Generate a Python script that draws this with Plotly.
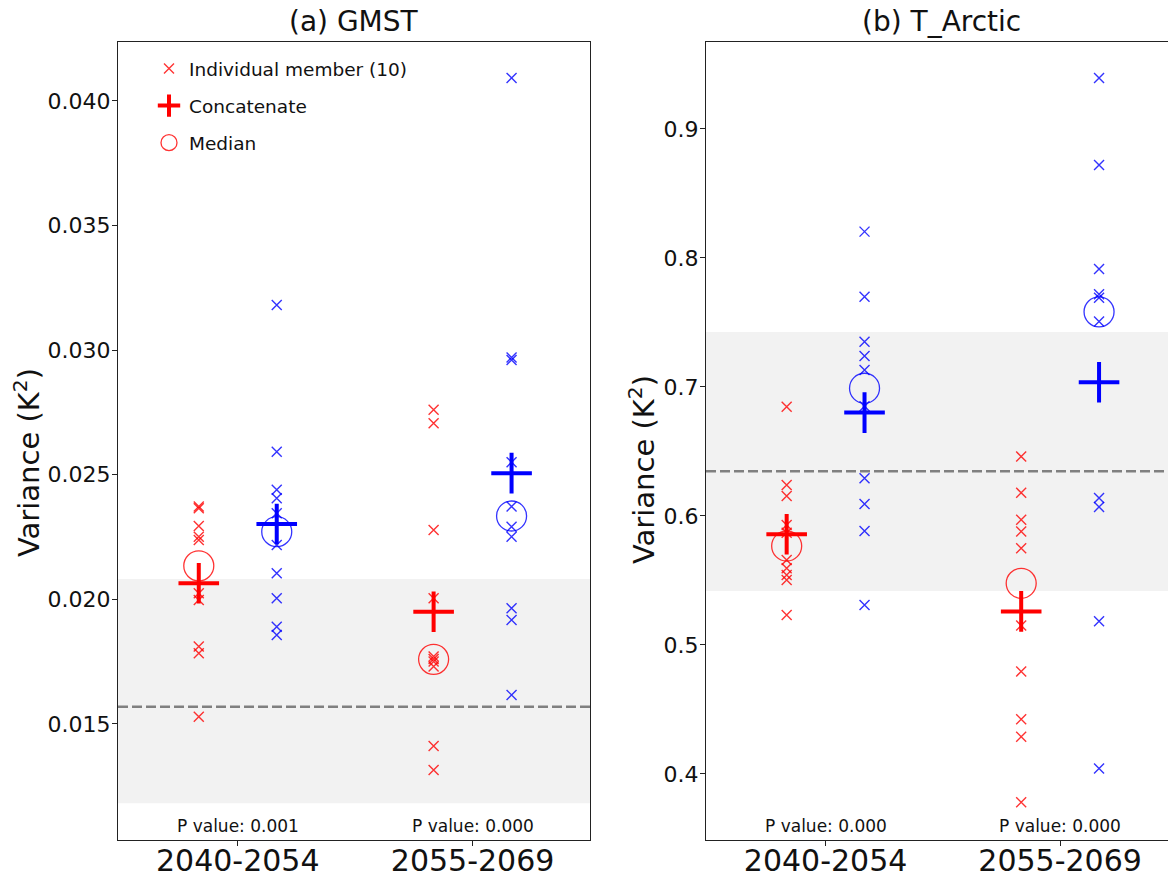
import plotly.graph_objects as go

# ---------------- data ----------------
periods = ["2040-2054", "2055-2069"]
panel_titles = ["(a) GMST", "(b) T_Arctic"]
p_values = [["P value: 0.001", "P value: 0.000"],
            ["P value: 0.000", "P value: 0.000"]]

# GMST variance, individual members (10 each)
gmst_red_members = [
    [0.02372, 0.02365, 0.02294, 0.02251, 0.02238, 0.02024, 0.01997, 0.01810, 0.01783, 0.01529],
    [0.02760, 0.02706, 0.02278, 0.02004, 0.01770, 0.01760, 0.01750, 0.01730, 0.01411, 0.01315],
]
gmst_blue_members = [
    [0.03181, 0.02592, 0.02439, 0.02405, 0.02345, 0.02218, 0.02104, 0.02004, 0.01890, 0.01857],
    [0.04092, 0.02970, 0.02960, 0.02550, 0.02372, 0.02291, 0.02251, 0.01964, 0.01917, 0.01616],
]
gmst_red_concat = [0.02064, 0.01950]
gmst_blue_concat = [0.02302, 0.02506]
gmst_red_median = [0.02134, 0.01759]
gmst_blue_median = [0.02271, 0.02334]
gmst_ref_mean = 0.01569
gmst_ref_band = [0.01181, 0.02081]

# T_Arctic variance, individual members (10 each)
arctic_red_members = [
    [0.6847, 0.6240, 0.6155, 0.5930, 0.5870, 0.5659, 0.5594, 0.5543, 0.5504, 0.5233],
    [0.6460, 0.6179, 0.5970, 0.5880, 0.5750, 0.5150, 0.4795, 0.4424, 0.4288, 0.3781],
]
arctic_blue_members = [
    [0.8204, 0.7700, 0.7351, 0.7240, 0.7132, 0.6850, 0.6292, 0.6093, 0.5884, 0.5310],
    [0.9395, 0.8721, 0.7914, 0.7719, 0.7692, 0.7508, 0.6140, 0.6070, 0.5184, 0.4043],
]
arctic_red_concat = [0.5858, 0.5260]
arctic_blue_concat = [0.6801, 0.7036]
arctic_red_median = [0.5767, 0.5478]
arctic_blue_median = [0.6990, 0.7582]
arctic_ref_mean = 0.6347
arctic_ref_band = [0.5419, 0.7426]

y_ranges = [[0.01034, 0.04236], [0.3488, 0.9674]]
y_ticks = [[0.015, 0.020, 0.025, 0.030, 0.035, 0.040],
           [0.4, 0.5, 0.6, 0.7, 0.8, 0.9]]
y_ticktext = [["0.015", "0.020", "0.025", "0.030", "0.035", "0.040"],
              ["0.4", "0.5", "0.6", "0.7", "0.8", "0.9"]]

# ---------------- style ----------------
RED = "rgba(255,0,0,0.8)"
BLUE = "rgba(0,0,255,0.8)"
RED_S = "rgb(255,0,0)"
BLUE_S = "rgb(0,0,255)"
OFFSET = 0.166
W, H = 1168, 878
FONT = "DejaVu Sans"
TXT = "#111111"

fig = go.Figure()

panels = [
    (gmst_red_members, gmst_blue_members, gmst_red_concat, gmst_blue_concat,
     gmst_red_median, gmst_blue_median, gmst_ref_mean, gmst_ref_band),
    (arctic_red_members, arctic_blue_members, arctic_red_concat, arctic_blue_concat,
     arctic_red_median, arctic_blue_median, arctic_ref_mean, arctic_ref_band),
]

shapes = []
annotations = []
for pi, (rm, bm, rc, bc, rmed, bmed, refm, band) in enumerate(panels):
    xa = "x" if pi == 0 else "x2"
    ya = "y" if pi == 0 else "y2"
    xdom = "x domain" if pi == 0 else "x2 domain"
    # reference band and mean line
    shapes.append(dict(type="rect", xref=xdom, yref=ya, x0=0, x1=1, y0=band[0], y1=band[1],
                       fillcolor="#f2f2f2", line=dict(width=0), layer="below"))
    shapes.append(dict(type="line", xref=xdom, yref=ya, x0=0, x1=1, y0=refm, y1=refm,
                       line=dict(color="#808080", width=2.5, dash="10px,4px"), layer="above"))
    for k in range(len(periods)):
        for members, conc, med, col, cs, off in [(rm, rc, rmed, RED, RED_S, -OFFSET),
                                                  (bm, bc, bmed, BLUE, BLUE_S, OFFSET)]:
            fig.add_trace(go.Scatter(
                x=[k + off] * len(members[k]), y=members[k], mode="markers", xaxis=xa, yaxis=ya,
                marker=dict(symbol="x-thin-open", size=10, color=col, line=dict(color=col, width=1.4)),
                showlegend=False, hoverinfo="y"))
            fig.add_trace(go.Scatter(
                x=[k + off], y=[conc[k]], mode="markers", xaxis=xa, yaxis=ya,
                marker=dict(symbol="cross-thin-open", size=29, color=cs, line=dict(color=cs, width=4)),
                showlegend=False, hoverinfo="y"))
            fig.add_trace(go.Scatter(
                x=[k + off], y=[med[k]], mode="markers", xaxis=xa, yaxis=ya,
                marker=dict(symbol="circle-open", size=30, color=col, line=dict(color=col, width=1.3)),
                showlegend=False, hoverinfo="y"))
        annotations.append(dict(xref=xa, yref="paper", x=k, y=(H - 826) / H,
                                text=p_values[pi][k], showarrow=False,
                                font=dict(family=FONT, size=17, color=TXT),
                                xanchor="center", yanchor="middle"))

# legend-only traces
fig.add_trace(go.Scatter(x=[None], y=[None], mode="markers", name="Individual member (10)",
                         marker=dict(symbol="x-thin-open", size=10, color=RED, line=dict(color=RED, width=1.4)),
                         legendgroup="a"))
fig.add_trace(go.Scatter(x=[None], y=[None], mode="markers", name="Concatenate",
                         marker=dict(symbol="cross-thin-open", size=29, color=RED_S, line=dict(color=RED_S, width=4)),
                         legendgroup="b"))
fig.add_trace(go.Scatter(x=[None], y=[None], mode="markers", name="Median",
                         marker=dict(symbol="circle-open", size=30, color=RED, line=dict(color=RED, width=1.3)),
                         legendgroup="c"))

# titles & y labels
title_x = [(118 + 590) / 2 / W, (706 + 1177) / 2 / W]
for pi in range(2):
    annotations.append(dict(xref="paper", yref="paper", x=title_x[pi], y=1 - 22 / H,
                            text=panel_titles[pi], showarrow=False,
                            font=dict(family=FONT, size=28, color=TXT),
                            xanchor="center", yanchor="middle"))
ylab_x = [27 / W, 642 / W]
ylab_y = [1 - 463 / H, 1 - 470 / H]
for pi in range(2):
    annotations.append(dict(xref="paper", yref="paper", x=ylab_x[pi], y=ylab_y[pi],
                            text="Variance (K<sup>2</sup>)", showarrow=False, textangle=-90,
                            font=dict(family=FONT, size=29, color=TXT),
                            xanchor="center", yanchor="middle"))

axis_common = dict(showline=True, linecolor="#222", linewidth=1.2, ticks="outside",
                   ticklen=5, tickcolor="#222", tickwidth=1.2, showgrid=False, zeroline=False,
                   automargin=False)

ydom = [38 / H, 1 - 42 / H]
fig.update_layout(
    width=W, height=H, margin=dict(l=0, r=0, t=0, b=0, autoexpand=False),
    paper_bgcolor="white", plot_bgcolor="white",
    shapes=shapes, annotations=annotations,
    xaxis=dict(domain=[118 / W, 590 / W], range=[-0.51, 1.5], tickvals=[0, 1], ticktext=periods,
               mirror=True, tickfont=dict(family=FONT, size=30, color=TXT), anchor="y",
               ticklabelstandoff=-11, **axis_common),
    yaxis=dict(domain=ydom, range=y_ranges[0], tickvals=y_ticks[0], ticktext=y_ticktext[0],
               mirror=True, tickfont=dict(family=FONT, size=22, color=TXT), anchor="x",
               ticklabelstandoff=-3, **axis_common),
    xaxis2=dict(domain=[706 / W, 1.0], range=[-0.51, 1.46], tickvals=[0, 1], ticktext=periods,
                mirror=True, tickfont=dict(family=FONT, size=30, color=TXT), anchor="y2",
                ticklabelstandoff=-11, **axis_common),
    yaxis2=dict(domain=ydom, range=y_ranges[1], tickvals=y_ticks[1], ticktext=y_ticktext[1],
                mirror=False, tickfont=dict(family=FONT, size=22, color=TXT), anchor="x2",
                ticklabelstandoff=-3, **axis_common),
    legend=dict(x=149 / W, y=1 - 50 / H, xanchor="left", yanchor="top",
                font=dict(family=FONT, size=18.5, color=TXT),
                bgcolor="rgba(255,255,255,0)", tracegroupgap=10, itemsizing="trace"),
    showlegend=True,
)

fig.write_html("out.html")
